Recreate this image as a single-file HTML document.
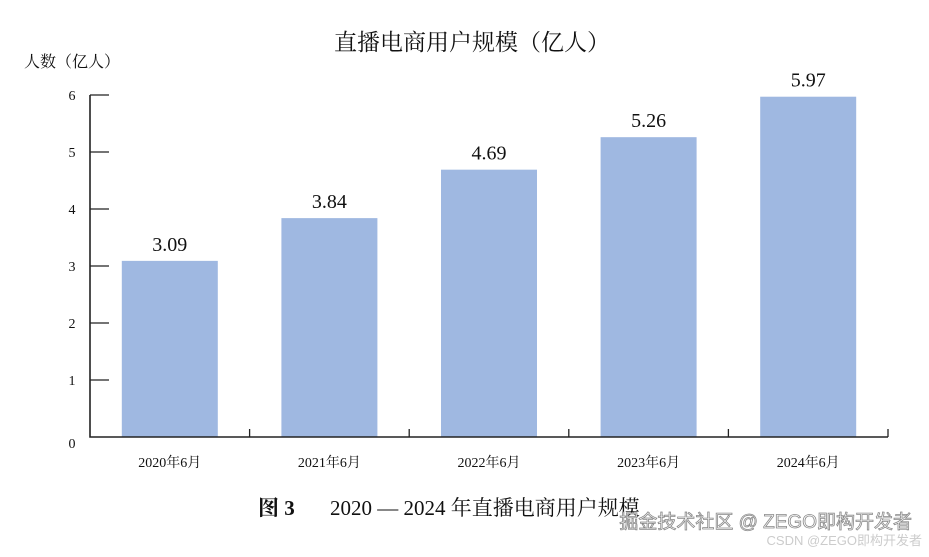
<!DOCTYPE html>
<html><head><meta charset="utf-8"><style>
body{margin:0;background:#fff;width:929px;height:552px;overflow:hidden;font-family:"Liberation Serif","Noto Serif CJK SC",serif}
</style></head><body>
<svg width="929" height="552" xmlns="http://www.w3.org/2000/svg">
<text x="472" y="50" text-anchor="middle" font-size="23" fill="#111" font-family="Liberation Serif,Noto Serif CJK SC,serif">直播电商用户规模（亿人）</text>
<text x="24" y="67" font-size="16" fill="#111" font-family="Liberation Serif,Noto Serif CJK SC,serif">人数（亿人）</text>
<g id="plot"></g>
<text x="258" y="515" font-size="21" fill="#111" font-family="Liberation Serif,Noto Serif CJK SC,serif"><tspan font-weight="bold">图 3</tspan><tspan x="330">2020 — 2024 年直播电商用户规模</tspan></text>
<text x="912" y="528" text-anchor="end" font-size="19" fill="#fff" stroke="#888" stroke-width="0.8" font-family="Liberation Sans,Noto Sans CJK SC,sans-serif">掘金技术社区 @ ZEGO即构开发者</text>
<text x="922" y="545" text-anchor="end" font-size="13" fill="#ccc" font-family="Liberation Sans,Noto Sans CJK SC,sans-serif">CSDN @ZEGO即构开发者</text>
</svg>
<script>
const categories=["2020年6月","2021年6月","2022年6月","2023年6月","2024年6月"];
const values=[3.09,3.84,4.69,5.26,5.97];
const valueLabels=["3.09","3.84","4.69","5.26","5.97"];
const yTicks=[0,1,2,3,4,5,6];
const NS="http://www.w3.org/2000/svg";
const g=document.getElementById('plot');
const x0=90,x1=888,yb=437,yt=95,yMax=6;
const band=(x1-x0)/categories.length,bw=96;
const y=v=>yb-(v/yMax)*(yb-yt);
const xc=i=>x0+band*(i+0.5);
function mk(t,a){const e=document.createElementNS(NS,t);for(const k in a)e.setAttribute(k,a[k]);g.appendChild(e);return e;}
values.forEach((v,i)=>{
const r=mk('rect',{x:xc(i)-bw/2,y:y(v),width:bw,height:yb-y(v),fill:'#9fb8e1'});


const t=mk('text',{x:xc(i),y:y(v)-10,'text-anchor':'middle','font-size':20,fill:'#111'});
t.textContent=valueLabels[i];


const c=mk('text',{x:xc(i),y:467,'text-anchor':'middle','font-size':14,fill:'#111'});
c.textContent=categories[i];


});
yTicks.forEach(v=>{
if(v>0){const l=mk('line',{x1:x0,x2:x0+19,y1:y(v),y2:y(v),stroke:'#222','stroke-width':1.3});

}
const t=mk('text',{x:72,y:y(v)+(v==0?11:5),'text-anchor':'middle','font-size':14,fill:'#111'});
t.textContent=v;


});
for(let i=1;i<=categories.length;i++){
const l=mk('line',{x1:x0+band*i,x2:x0+band*i,y1:yb,y2:yb-8,stroke:'#222','stroke-width':1.3});


}
const ax=mk('path',{d:`M${x0} ${yt}V${yb}H${x1}`,fill:'none',stroke:'#222','stroke-width':1.6});


</script>
</body></html>
